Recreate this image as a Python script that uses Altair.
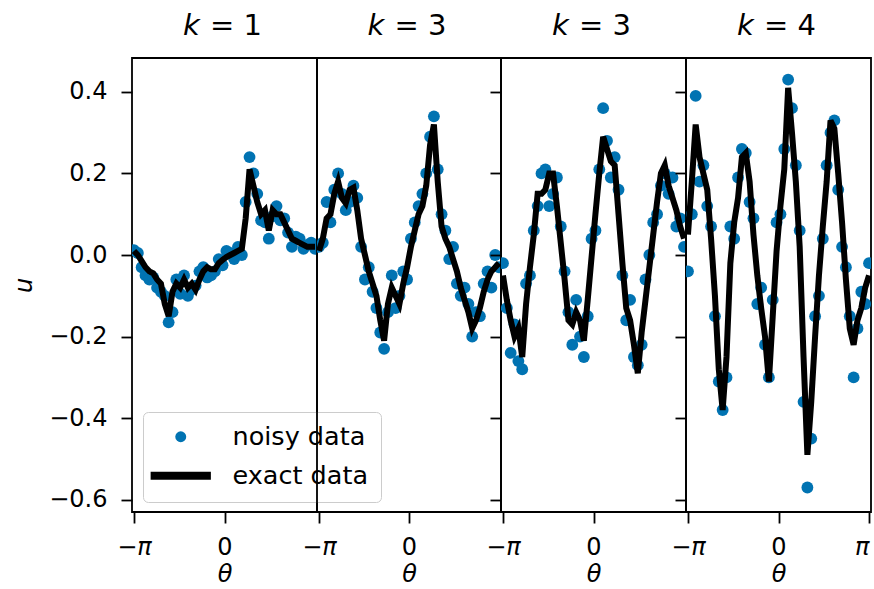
import numpy as np
import pandas as pd
import altair as alt

# ---------------- data ----------------
PANEL_K = ["= 1", "= 3", "= 3", "= 4"]
SERIES = ["noisy data", "exact data"]
COLORS = ["#0173B2", "#000000"]
N_POINTS = 48
THETA = np.linspace(-np.pi, np.pi, N_POINTS)

EXACT_1 = [0.01, 0.0, -0.015, -0.03, -0.04, -0.045, -0.06, -0.07, -0.12, -0.15, -0.09, -0.07,
           -0.08, -0.06, -0.08, -0.07, -0.085, -0.06, -0.04, -0.03, -0.035, -0.035, -0.02, -0.012,
           -0.005, 0.0, 0.005, 0.01, 0.015, 0.09, 0.21, 0.17, 0.13, 0.1, 0.11, 0.06,
           0.11, 0.1, 0.1, 0.08, 0.06, 0.04, 0.035, 0.03, 0.025, 0.02, 0.02, 0.02]
NOISY_1 = [0.012, 0.005, -0.03, -0.05, -0.06, -0.055, -0.08, -0.09, -0.1, -0.165, -0.14, -0.06,
           -0.095, -0.05, -0.1, -0.085, -0.075, -0.04, -0.03, -0.055, -0.05, -0.04, -0.01, -0.025,
           0.01, 0.005, -0.01, 0.02, 0.0, 0.13, 0.24, 0.2, 0.15, 0.085, 0.08, 0.04,
           0.095, 0.12, 0.085, 0.09, 0.055, 0.02, 0.045, 0.04, 0.015, 0.025, 0.03, 0.015]

EXACT_2 = [0.01, 0.04, 0.09, 0.1, 0.15, 0.18, 0.14, 0.127, 0.16, 0.165, 0.11, 0.04,
           0.0, -0.04, -0.07, -0.1, -0.16, -0.21, -0.12, -0.08, -0.1, -0.12, -0.07, -0.03,
           0.02, 0.06, 0.1, 0.12, 0.17, 0.27, 0.32, 0.18, 0.07, 0.04, 0.02, -0.01,
           -0.04, -0.08, -0.11, -0.14, -0.18, -0.16, -0.13, -0.09, -0.06, -0.04, -0.03, -0.02]
NOISY_2 = [0.02, 0.03, 0.13, 0.08, 0.16, 0.2, 0.15, 0.11, 0.13, 0.17, 0.14, 0.02,
           -0.06, -0.03, -0.09, -0.13, -0.19, -0.23, -0.14, -0.05, -0.13, -0.1, -0.04, -0.06,
           0.04, 0.08, 0.12, 0.15, 0.2, 0.29, 0.34, 0.21, 0.1, 0.06, -0.01, 0.02,
           -0.07, -0.1, -0.08, -0.12, -0.2, -0.14, -0.15, -0.07, -0.04, -0.08, 0.0, -0.03]

EXACT_3 = [-0.05, -0.11, -0.16, -0.2, -0.18, -0.25, -0.12, -0.03, 0.05, 0.15, 0.15, 0.16,
           0.2, 0.2, 0.12, 0.03, -0.06, -0.16, -0.17, -0.14, -0.16, -0.21, -0.11, -0.005,
           0.1, 0.2, 0.29, 0.26, 0.23, 0.22, 0.1, -0.02, -0.13, -0.16, -0.22, -0.29,
           -0.19, -0.11, -0.03, 0.05, 0.13, 0.2, 0.22, 0.17, 0.14, 0.11, 0.07, 0.04]
NOISY_3 = [-0.02, -0.13, -0.24, -0.17, -0.26, -0.28, -0.07, -0.05, 0.06, 0.12, 0.2, 0.21,
           0.12, 0.15, 0.19, 0.07, -0.04, -0.14, -0.22, -0.11, -0.2, -0.25, -0.15, 0.04,
           0.06, 0.21, 0.36, 0.28, 0.19, 0.24, 0.16, -0.05, -0.16, -0.11, -0.25, -0.27,
           -0.22, -0.06, 0.0, 0.08, 0.1, 0.17, 0.2, 0.15, 0.19, 0.07, 0.09, 0.02]

EXACT_4 = [0.05, 0.18, 0.32, 0.24, 0.2, 0.16, 0.04, -0.1, -0.28, -0.38, -0.25, -0.02,
           0.08, 0.14, 0.24, 0.25, 0.18, 0.05, -0.05, -0.13, -0.2, -0.31, -0.15, 0.01,
           0.12, 0.21, 0.41, 0.3, 0.18, 0.02, -0.25, -0.49, -0.36, -0.2, -0.05, 0.07,
           0.18, 0.33, 0.31, 0.2, 0.08, -0.06, -0.18, -0.22, -0.16, -0.13, -0.08, -0.05]
NOISY_4 = [-0.04, 0.1, 0.39, 0.18, 0.22, 0.12, 0.07, -0.15, -0.31, -0.38, -0.3, 0.07,
           0.04, 0.19, 0.26, 0.25, 0.13, 0.09, -0.12, -0.08, -0.22, -0.3, -0.11, 0.08,
           0.1, 0.26, 0.43, 0.36, 0.22, 0.06, -0.36, -0.57, -0.45, -0.15, -0.1, 0.04,
           0.22, 0.3, 0.33, 0.16, 0.02, -0.03, -0.15, -0.3, -0.18, -0.09, -0.12, -0.02]

EXACT = [EXACT_1, EXACT_2, EXACT_3, EXACT_4]
NOISY = [NOISY_1, NOISY_2, NOISY_3, NOISY_4]
WIDTHS = [185, 184, 185, 185]
HEIGHT = 454
X_DOMAIN = [-3.21, 3.21]
Y_DOMAIN = [-0.63, 0.483]
YTICKS = [-0.6, -0.4, -0.2, 0.0, 0.2, 0.4]

FONT = "DejaVu Sans"
LINE_PATH = "M-5.5,-0.75L5.5,-0.75L5.5,0.75L-5.5,0.75Z"

LEG = alt.Legend(orient="none", legendX=11, legendY=354, title=None)


def panel(idx):
    width = WIDTHS[idx]
    df = pd.DataFrame({"theta": THETA, "exact": EXACT[idx], "noisy": NOISY[idx],
                       "series": SERIES[0]})
    last = idx == 3
    xvals = [-np.pi, 0.0, np.pi] if last else [-np.pi, 0.0]
    xaxis = alt.Axis(values=xvals, title="θ", titleFontStyle="italic",
                     labelExpr="datum.value < -1 ? '−π' : (datum.value > 1 ? 'π' : '0')",
                     labelAlign={"condition": {"test": "datum.value > 1", "value": "right"},
                                 "value": "center"},
                     labelFontStyle={"condition": {"test": "datum.value == 0", "value": "normal"},
                                     "value": "italic"})
    xenc = alt.X("theta:Q", scale=alt.Scale(domain=X_DOMAIN, nice=False, zero=False), axis=xaxis)
    if idx == 0:
        yaxis = alt.Axis(values=YTICKS, title="u", titleFontStyle="italic",
                         labelExpr="replace(format(datum.value, '.1f'), '-', '−')")
    elif idx == 1:
        yaxis = None
    else:
        yaxis = alt.Axis(values=YTICKS, labels=False, title=None)
    yscale = alt.Scale(domain=Y_DOMAIN, nice=False, zero=False)

    if idx == 0:
        color = alt.Color("series:N", scale=alt.Scale(domain=SERIES, range=COLORS), legend=LEG)
        shape = alt.Shape("series:N", scale=alt.Scale(domain=SERIES, range=["circle", LINE_PATH]),
                          legend=LEG)
    else:
        color = alt.value(COLORS[0])
        shape = alt.value("circle")

    pts = alt.Chart(df).mark_point(filled=True, size=140, opacity=1, strokeWidth=0,
                                   clip=True).encode(
        x=xenc, y=alt.Y("noisy:Q", scale=yscale, axis=yaxis), color=color, shape=shape)
    line = alt.Chart(df).mark_line(color="black", strokeWidth=6, clip=True).encode(
        x=xenc, y=alt.Y("exact:Q", scale=yscale, axis=yaxis))

    tk = alt.Chart(pd.DataFrame({"t": ["k"]})).mark_text(
        font=FONT, fontSize=29, fontStyle="italic", align="left", baseline="alphabetic",
        color="black").encode(text="t:N", x=alt.value(width / 2 - 41.5), y=alt.value(-23))
    teq = alt.Chart(pd.DataFrame({"t": [PANEL_K[idx]]})).mark_text(
        font=FONT, fontSize=29, align="left", baseline="alphabetic",
        color="black").encode(text="t:N", x=alt.value(width / 2 - 14.5), y=alt.value(-23))

    return alt.layer(pts, line, tk, teq).properties(width=width, height=HEIGHT)


chart = alt.hconcat(*[panel(i) for i in range(4)], spacing=0, bounds="flush").resolve_scale(
    color="independent", shape="independent").resolve_legend(
    color="independent", shape="independent")

chart = chart.properties(
    padding={"left": 11, "top": 11, "right": 0, "bottom": 0},
    background="white",
).configure_view(
    stroke="black", strokeWidth=1.8
).configure_axis(
    grid=False, domain=False, tickColor="black", tickWidth=1.8, tickSize=11,
    labelColor="black", labelFont=FONT, labelFontSize=24,
    titleFont=FONT, titleFontSize=24, titleColor="black", titleFontWeight="normal",
).configure_axisX(
    labelPadding=12, titlePadding=3
).configure_axisY(
    labelPadding=14, titlePadding=12
).configure_legend(
    fillColor="rgba(255,255,255,0.8)", strokeColor="#cccccc", cornerRadius=5, padding=12,
    labelFont=FONT, labelFontSize=25.5, labelColor="black", symbolSize=120,
    symbolOffset=13, labelOffset=39, rowPadding=12, symbolStrokeWidth=0,
)

chart.save("out.html", embed_options={"renderer": "svg", "actions": False})
